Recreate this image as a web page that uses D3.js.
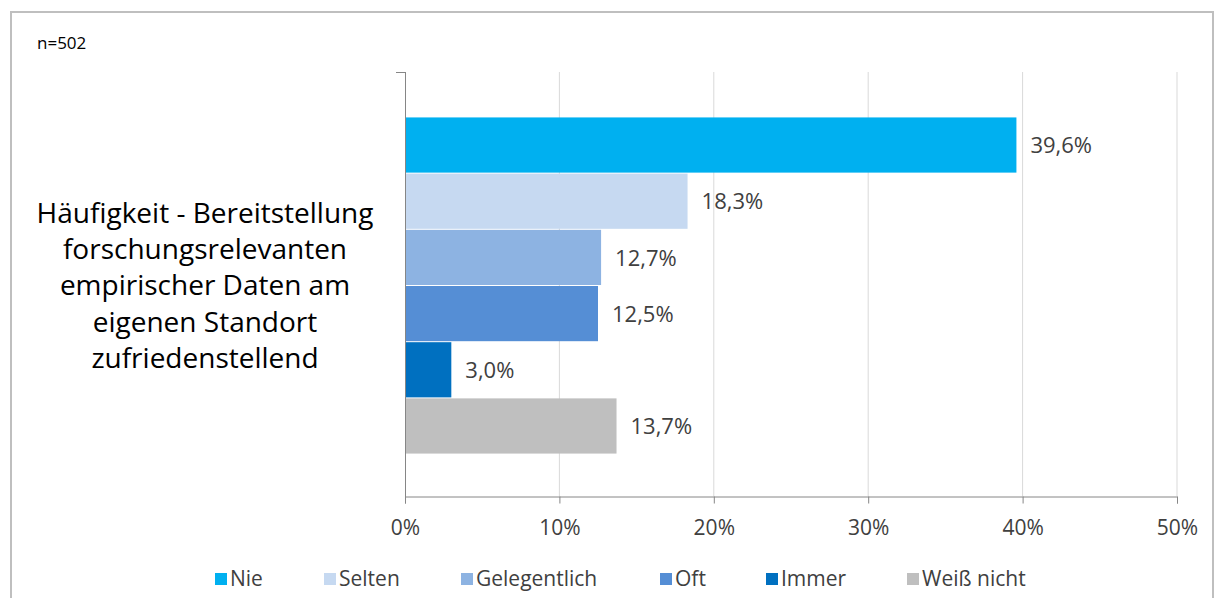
<!DOCTYPE html>
<html><head><meta charset="utf-8">
<script src="https://cdn.jsdelivr.net/npm/d3@7"></script>
<style>
html,body{margin:0;padding:0;background:#fff;}
svg{display:block;font-family:"Open Sans",sans-serif;}
</style></head>
<body>
<svg id="chart" width="1216" height="598"></svg>
<script>
const categoryLabel = ["Häufigkeit - Bereitstellung","forschungsrelevanten","empirischer Daten am","eigenen Standort","zufriedenstellend"];
const series = ["Nie","Selten","Gelegentlich","Oft","Immer","Weiß nicht"];
const values = [39.6,18.3,12.7,12.5,3.0,13.7];
const colors = ["#00b0f0","#c6d9f1","#8db3e2","#558ed5","#0070c0","#bfbfbf"];
const ticks = [0,10,20,30,40,50];
const note = "n=502";

const svg = d3.select("#chart");
// outer frame
svg.append("rect").attr("x",11).attr("y",12).attr("width",1202).attr("height",600)
  .attr("fill","none").attr("stroke","#bfbfbf").attr("stroke-width",2);

const x = d3.scaleLinear().domain([0,50]).range([405,1177]);
const y = d3.scaleBand().domain(series).range([75,497]).paddingInner(0).paddingOuter(0.755);

// gridlines
svg.append("g").selectAll("line").data(ticks.slice(1)).join("line")
  .attr("x1",d=>x(d)).attr("x2",d=>x(d)).attr("y1",72).attr("y2",496)
  .attr("stroke","#d9d9d9").attr("stroke-width",1);

// bars
svg.append("g").selectAll("rect").data(series).join("rect")
  .attr("x",x(0)).attr("y",d=>y(d)).attr("height",y.bandwidth()-1)
  .attr("width",(d,i)=>x(values[i])-x(0)).attr("fill",(d,i)=>colors[i]);

// data labels
svg.append("g").selectAll("text").data(series).join("text")
  .attr("x",(d,i)=>x(values[i])+14).attr("y",d=>y(d)+y.bandwidth()/2)
  .attr("dy","0.35em").attr("font-size",22).attr("fill","#404040")
  .text((d,i)=>values[i].toFixed(1).replace(".",",")+"%");

// x axis
const xAxis = d3.axisBottom(x).tickValues(ticks).tickSize(7).tickPadding(17)
  .tickFormat(d=>d+"%");
const gx = svg.append("g").attr("transform","translate(0,496.5)").call(xAxis);
gx.select(".domain").attr("stroke","#868686");
gx.selectAll(".tick line").attr("stroke","#868686");
gx.selectAll(".tick text").attr("font-size",21).attr("fill","#404040").attr("font-family","Open Sans");

// y axis line
svg.append("line").attr("x1",405.5).attr("x2",405.5).attr("y1",72).attr("y2",497)
  .attr("stroke","#868686");
svg.append("line").attr("x1",396).attr("x2",405.5).attr("y1",72.5).attr("y2",72.5)
  .attr("stroke","#868686");

// category label
svg.append("text").attr("x",205).attr("y",285).attr("text-anchor","middle")
  .attr("font-size",28).attr("fill","#000")
  .selectAll("tspan").data(categoryLabel).join("tspan")
  .attr("x",205).attr("y",(d,i)=>285.5+(i-2)*36.2).attr("dy","0.35em").text(d=>d);

// note
svg.append("text").attr("x",37).attr("y",43).attr("dy","0.35em").attr("font-size",17)
  .attr("fill","#000").text(note);

// legend
const legX = [215,324,461,660,766,907];
const lg = svg.append("g").selectAll("g").data(series).join("g")
  .attr("transform",(d,i)=>`translate(${legX[i]},579)`);
lg.append("rect").attr("x",0).attr("y",-6).attr("width",12).attr("height",12)
  .attr("fill",(d,i)=>colors[i]);
lg.append("text").attr("x",15).attr("y",0).attr("dy","0.35em").attr("font-size",21)
  .attr("fill","#404040").text(d=>d);
</script>
</body></html>
